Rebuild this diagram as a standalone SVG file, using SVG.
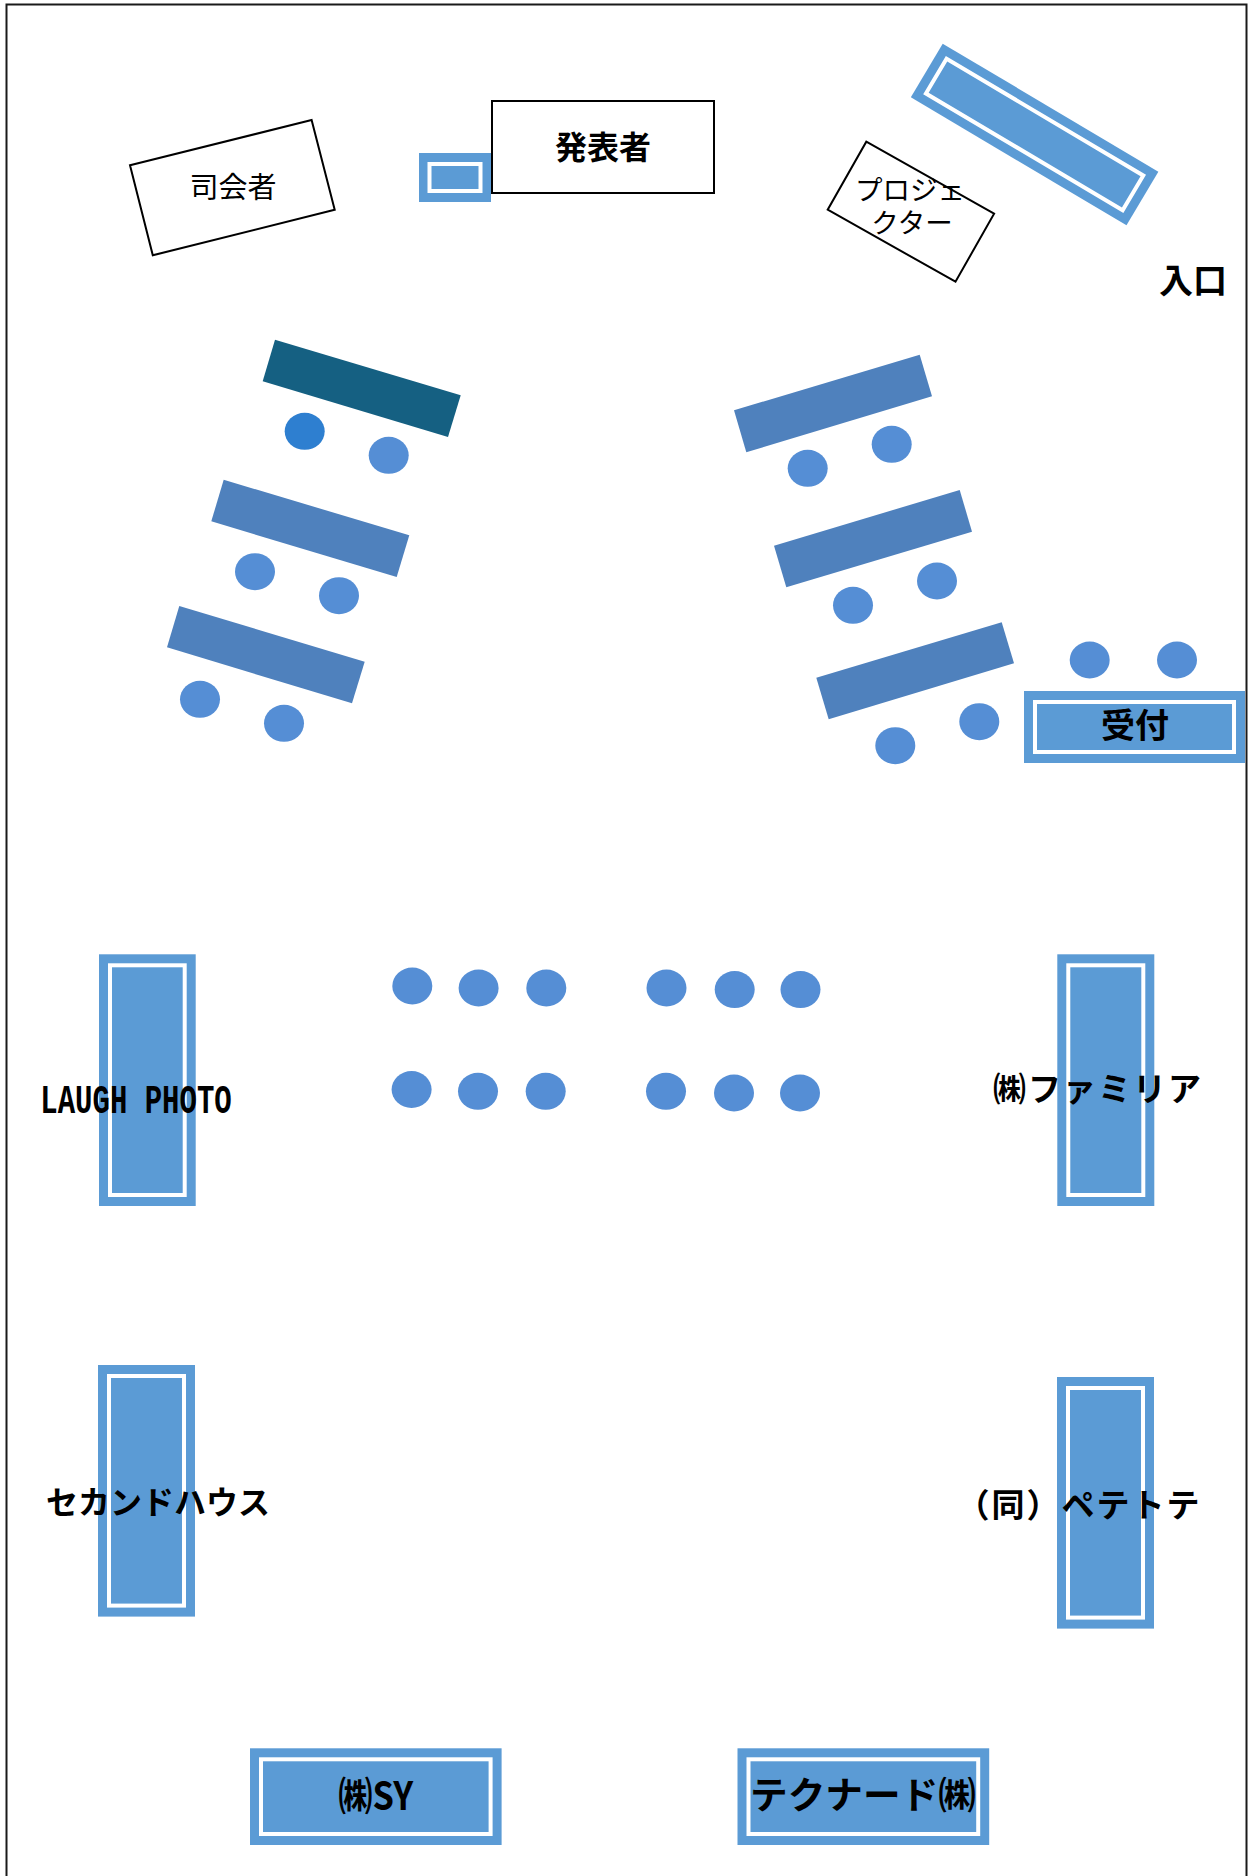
<svg xmlns="http://www.w3.org/2000/svg" width="1248" height="1876" viewBox="0 0 1248 1876">
<style>
text{font-family:"Noto Sans CJK JP","Liberation Sans",sans-serif;fill:#000;text-anchor:middle}
.b{font-weight:700}
.box{fill:#fff;stroke:#000;stroke-width:2}
.o{fill:#5B9BD5}
.i{fill:none;stroke:#fff;stroke-width:4}
.t{fill:#4F81BD}
.s{fill:#558ED5}
</style>
<rect id="frame" x="6.5" y="4.5" width="1240" height="1880" fill="#fff" stroke="#1a1a1a" stroke-width="2"/>
<g id="presenter"><rect class="box" x="492" y="101" width="222" height="92"/><text class="b" x="603" y="159" font-size="32">発表者</text></g>
<g id="lectern"><rect class="o" x="419" y="153" width="72" height="49"/><rect class="i" x="429.5" y="164" width="51" height="27"/></g>
<g id="mc"><polygon class="box" points="130,165.3 311.6,120 334.7,209.7 152.8,255.3"/><text x="233" y="198" font-size="29">司会者</text></g>
<g id="screen"><g transform="translate(1034.6 134.5) rotate(30.7)"><rect class="o" x="-125.4" y="-31.2" width="250.8" height="62.4"/><rect class="i" x="-114.4" y="-20.2" width="228.8" height="40.4"/></g></g>
<g id="projector"><polygon class="box" points="866.3,141.7 994.1,213.7 955.5,281.7 827.7,209.7"/><text font-size="27.5"><tspan x="910" y="199.5">プロジェ</tspan><tspan x="912" y="232.5">クター</tspan></text></g>
<g id="entrance"><text class="b" x="1193" y="293" font-size="34">入口</text></g>
<g id="table-1"><polygon fill="#156082" points="275,339.7 460.7,395.3 448,437 262.7,381.3"/></g>
<g id="table-2"><polygon class="t" points="223.7,479.7 409.3,535.3 396.7,577 211.3,521.3"/></g>
<g id="table-3"><polygon class="t" points="179.3,606 364.7,661.7 352,703.3 167,647.3"/></g>
<g id="table-4"><polygon class="t" points="919.7,354.7 932,396.3 746.3,452.3 734,410.3"/></g>
<g id="table-5"><polygon class="t" points="959.7,490 972,531.7 786.3,587.3 774,545.7"/></g>
<g id="table-6"><polygon class="t" points="1001.7,622.3 1014,663.3 828.7,719.3 816.3,677.7"/></g>
<g id="seats">
<ellipse cx="304.7" cy="431.3" rx="20" ry="18.5" fill="#2E7FD0"/>
<ellipse class="s" cx="388.7" cy="455.3" rx="20" ry="18.5"/>
<ellipse class="s" cx="255" cy="571.7" rx="20" ry="18.5"/>
<ellipse class="s" cx="339" cy="595.7" rx="20" ry="18.5"/>
<ellipse class="s" cx="200" cy="699.3" rx="20" ry="18.5"/>
<ellipse class="s" cx="284" cy="723.3" rx="20" ry="18.5"/>
<ellipse class="s" cx="807.7" cy="468.3" rx="20" ry="18.5"/>
<ellipse class="s" cx="891.7" cy="444.3" rx="20" ry="18.5"/>
<ellipse class="s" cx="853" cy="605.3" rx="20" ry="18.5"/>
<ellipse class="s" cx="937" cy="581" rx="20" ry="18.5"/>
<ellipse class="s" cx="895.3" cy="745.7" rx="20" ry="18.5"/>
<ellipse class="s" cx="979.3" cy="721.7" rx="20" ry="18.5"/>
<ellipse class="s" cx="1089.7" cy="660" rx="20" ry="18.5"/>
<ellipse class="s" cx="1177" cy="660" rx="20" ry="18.5"/>
<ellipse class="s" cx="412.3" cy="986" rx="20" ry="18.5"/>
<ellipse class="s" cx="478.6" cy="988" rx="20" ry="18.5"/>
<ellipse class="s" cx="546.3" cy="988" rx="20" ry="18.5"/>
<ellipse class="s" cx="666.5" cy="988" rx="20" ry="18.5"/>
<ellipse class="s" cx="734.7" cy="989.6" rx="20" ry="18.5"/>
<ellipse class="s" cx="800.5" cy="989.6" rx="20" ry="18.5"/>
<ellipse class="s" cx="411.6" cy="1089.5" rx="20" ry="18.5"/>
<ellipse class="s" cx="478" cy="1091.3" rx="20" ry="18.5"/>
<ellipse class="s" cx="545.7" cy="1091.3" rx="20" ry="18.5"/>
<ellipse class="s" cx="666" cy="1091.3" rx="20" ry="18.5"/>
<ellipse class="s" cx="734" cy="1093" rx="20" ry="18.5"/>
<ellipse class="s" cx="800" cy="1093" rx="20" ry="18.5"/>
</g>
<g id="reception"><rect class="o" x="1024" y="691" width="221" height="72"/><rect class="i" x="1035" y="702" width="199" height="50"/><text class="b" x="1135" y="738" font-size="34">受付</text></g>
<g id="booth-laugh"><rect class="o" x="99" y="954.3" width="96.7" height="251.7"/><rect class="i" x="110" y="965.3" width="74.7" height="229.7"/><text class="b" transform="translate(136 1113.3) scale(1 1.42)" x="0" y="0" font-size="29" style="font-family:'Liberation Mono',monospace">LAUGH PHOTO</text></g>
<g id="booth-family"><rect class="o" x="1057.3" y="954.3" width="97" height="251.7"/><rect class="i" x="1068.3" y="965.3" width="75" height="229.7"/><text class="b" x="1098" y="1101" font-size="33" letter-spacing="2">㈱ファミリア</text></g>
<g id="booth-second"><rect class="o" x="98" y="1365" width="97" height="251.6"/><rect class="i" x="109" y="1376" width="75" height="229.6"/><text class="b" x="158" y="1513.5" font-size="32">セカンドハウス</text></g>
<g id="booth-petetote"><rect class="o" x="1057" y="1377" width="97" height="251.6"/><rect class="i" x="1068" y="1388" width="75" height="229.6"/><text class="b" x="1079" y="1517" font-size="33" letter-spacing="2">（同）ペテトテ</text></g>
<g id="booth-sy"><rect class="o" x="250" y="1748.3" width="251.6" height="96.7"/><rect class="i" x="261" y="1759.3" width="229.6" height="74.7"/><text class="b" x="375.7" y="1810" font-size="39" textLength="75" lengthAdjust="spacingAndGlyphs">㈱SY</text></g>
<g id="booth-techna"><rect class="o" x="737.5" y="1748.3" width="251.7" height="96.7"/><rect class="i" x="748.5" y="1759.3" width="229.7" height="74.7"/><text class="b" x="863" y="1809" font-size="37" textLength="226" lengthAdjust="spacingAndGlyphs">テクナード㈱</text></g>
</svg>
